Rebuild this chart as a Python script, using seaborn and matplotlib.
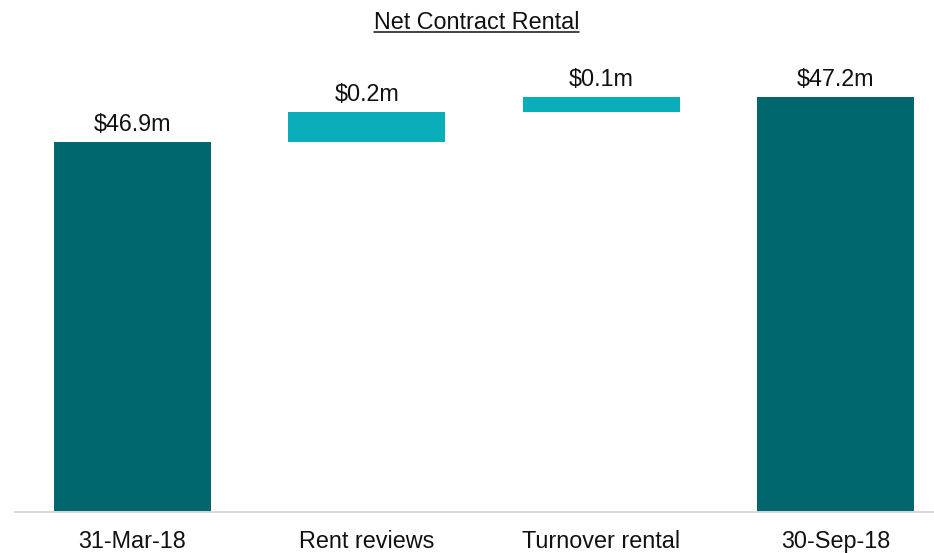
import matplotlib
matplotlib.use("Agg")
import matplotlib.pyplot as plt
import seaborn as sns
import pandas as pd
from matplotlib.lines import Line2D

# Values (in $m)
categories = ["31-Mar-18", "Rent reviews", "Turnover rental", "30-Sep-18"]
changes = [46.9, 0.2, 0.1, 47.2]
is_total = [True, False, False, True]
value_labels = ["$46.9m", "$0.2m", "$0.1m", "$47.2m"]

DARK = "#00676E"
LIGHT = "#0AAEBA"
TEXT = "#111111"
FS = 16.8


# Waterfall: change bars float on the running total
def build_waterfall(categories, changes, is_total):
    tops, bases = [], []
    running = 0.0
    for val, total in zip(changes, is_total):
        if total:
            bases.append(0.0)
            running = val
        else:
            bases.append(running)
            running = running + val
        tops.append(running)
    return pd.DataFrame({
        "category": categories,
        "top": tops,
        "base": bases,
        "kind": ["total" if t else "change" for t in is_total],
    })


df = build_waterfall(categories, changes, is_total)

sns.set_style("white")
plt.rcParams["font.family"] = ["Liberation Sans", "DejaVu Sans"]

W, H = 934, 553
fig = plt.figure(figsize=(W / 100, H / 100), dpi=100)
axis_y = 511.5
ax = fig.add_axes([15 / W, (H - axis_y) / H, (953 - 15) / W, axis_y / H])

sns.barplot(data=df, x="category", y="top", hue="kind",
            palette={"total": DARK, "change": LIGHT}, dodge=False,
            width=0.67, saturation=1, errorbar=None, legend=False,
            linewidth=0, ax=ax)
# white cover below the floating bars
sns.barplot(data=df, x="category", y="base", color="white", width=0.67,
            saturation=1, errorbar=None, linewidth=0, ax=ax)

ax.set_xlim(-0.5, 3.5)
ax.set_ylim(44.437, 47.847)

for i, (top, lab) in enumerate(zip(df["top"], value_labels)):
    ax.annotate(lab.replace("$", r"\$"), xy=(i, top), xytext=(0, 8),
                textcoords="offset points", ha="center", va="baseline",
                fontsize=FS, color=TEXT)

ax.set_xlabel("")
ax.set_ylabel("")
ax.set_yticks([])
ax.tick_params(axis="x", length=0, pad=13.5, labelsize=FS, labelcolor=TEXT)
for side in ["left", "top", "right"]:
    ax.spines[side].set_visible(False)
ax.spines["bottom"].set_color("#D9D9D9")
ax.spines["bottom"].set_linewidth(1.4)

# underlined title
title_base = H - 29.3
title = fig.text(476.7 / W, title_base / H, "Net Contract Rental",
                 ha="center", va="baseline", fontsize=FS, color=TEXT)
fig.canvas.draw()
bb = title.get_window_extent()
uy = (title_base - 2.5) / H
fig.add_artist(Line2D([bb.x0 / W, bb.x1 / W], [uy, uy],
                      transform=fig.transFigure, color=TEXT, linewidth=1.1))

fig.savefig("out.png", dpi=100)
